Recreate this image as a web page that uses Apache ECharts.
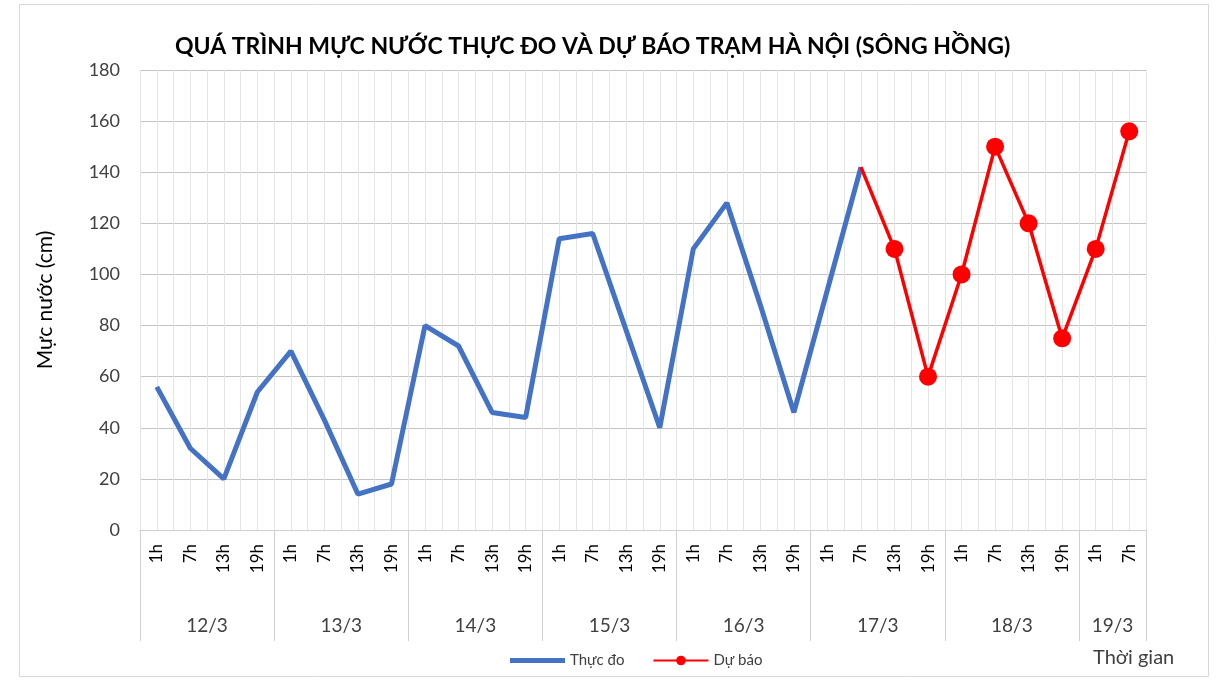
<!DOCTYPE html>
<html>
<head>
<meta charset="utf-8">
<script src="https://cdn.jsdelivr.net/npm/echarts@6/dist/echarts.min.js"></script>
<style>
  html, body { margin: 0; padding: 0; background: #fff; }
  #chart { width: 1216px; height: 681px; }
</style>
</head>
<body>
<div id="chart"></div>
<script>
const days = ['12/3', '13/3', '14/3', '15/3', '16/3', '17/3', '18/3', '19/3'];
const hoursPerDay = [4, 4, 4, 4, 4, 4, 4, 2];
const hourNames = ['1h', '7h', '13h', '19h'];
const measured = [56, 32, 20, 54, 70, 43, 14, 18, 80, 72, 46, 44, 114, 116, 78, 40, 110, 128, 88, 46, 94, 142];
const forecast = [142, 110, 60, 100, 150, 120, 75, 110, 156];
const yTicks = [0, 20, 40, 60, 80, 100, 120, 140, 160, 180];

const font = 'Lato, "Liberation Sans", sans-serif';

// hour categories + half-step axis for grid lines and day groups
const hours = [];
days.forEach((d, i) => {
  for (let h = 0; h < hoursPerDay[i]; h++) hours.push(hourNames[h]);
});
const half = new Array(hours.length * 2 + 1).fill('');
const groupEdges = [0];
let pos = 0;
days.forEach((d, i) => {
  half[pos * 2 + hoursPerDay[i]] = d;
  pos += hoursPerDay[i];
  groupEdges.push(pos * 2);
});

const measuredData = measured.concat(new Array(hours.length - measured.length).fill('-'));
const offset = measured.length - 1;
const forecastData = new Array(offset).fill('-').concat(
  forecast.map((v, i) => i === 0 ? { value: v, symbol: 'none' } : v)
);

const chart = echarts.init(document.getElementById('chart'));
chart.setOption({
  animation: false,
  title: {
    text: 'QUÁ TRÌNH MỰC NƯỚC THỰC ĐO VÀ DỰ BÁO TRẠM HÀ NỘI (SÔNG HỒNG)',
    left: 170,
    top: 30,
    textStyle: { fontFamily: font, fontSize: 23, fontWeight: 'bold', color: '#000' }
  },
  legend: {
    left: 505,
    top: 648,
    itemWidth: 55,
    itemHeight: 12,
    itemGap: 28,
    textStyle: { fontFamily: font, fontSize: 15, color: '#404040' },
    data: [
      { name: 'Thực đo', icon: 'path://M0,0 L55,0 L55,5 L0,5 Z' },
      { name: 'Dự báo' }
    ]
  },
  graphic: [
    { type: 'rect', shape: { x: 19.5, y: 4.5, width: 1189, height: 672 },
      style: { fill: 'none', stroke: '#d9d9d9', lineWidth: 1 } },
    { type: 'text', left: 1093, top: 648,
      style: { text: 'Thời gian', font: '20px ' + font, fill: '#404040' } }
  ],
  grid: { left: 140, right: 70, top: 70, bottom: 151 },
  xAxis: [
    {
      type: 'category',
      data: hours,
      position: 'bottom',
      axisLine: { lineStyle: { color: '#d0d0d0' } },
      axisTick: { show: false },
      axisLabel: { rotate: 90, interval: 0, margin: 14, fontFamily: font, fontSize: 17, color: '#000' },
      splitLine: { show: false }
    },
    {
      type: 'category',
      data: half,
      boundaryGap: false,
      position: 'bottom',
      axisLine: { show: false },
      axisTick: {
        show: true,
        length: 111,
        interval: (i) => groupEdges.includes(i),
        lineStyle: { color: '#d0d0d0' }
      },
      axisLabel: {
        interval: (i, v) => v !== '',
        margin: 86,
        fontFamily: font, fontSize: 19, color: '#404040'
      },
      splitLine: { show: true, interval: 0, lineStyle: { color: '#e4e4e4' } }
    }
  ],
  yAxis: {
    type: 'value',
    min: yTicks[0],
    max: yTicks[yTicks.length - 1],
    interval: 20,
    name: 'Mực nước (cm)',
    nameLocation: 'middle',
    nameGap: 84,
    nameTextStyle: { fontFamily: font, fontSize: 21, color: '#000' },
    axisLine: { show: false },
    axisTick: { show: false },
    axisLabel: { margin: 20, fontFamily: font, fontSize: 18, color: '#404040' },
    splitLine: { lineStyle: { color: '#c4c4c4' } }
  },
  series: [
    {
      name: 'Thực đo',
      type: 'line',
      data: measuredData,
      symbol: 'none',
      lineStyle: { color: '#4472C4', width: 5 },
      itemStyle: { color: '#4472C4' },
      z: 3
    },
    {
      name: 'Dự báo',
      type: 'line',
      data: forecastData,
      symbol: 'circle',
      symbolSize: 18,
      lineStyle: { color: '#FF0000', width: 3.5 },
      itemStyle: { color: '#FF0000' },
      z: 4
    }
  ]
});
</script>
</body>
</html>
